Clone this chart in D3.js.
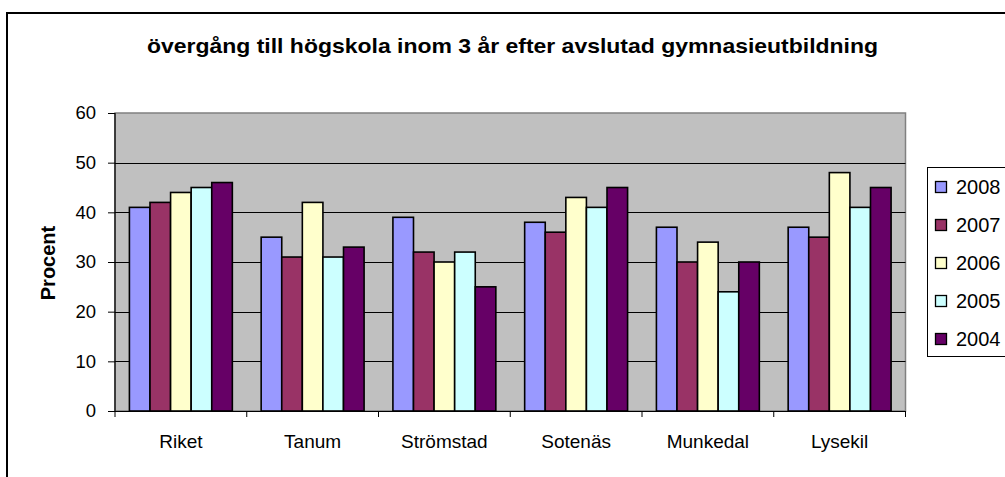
<!DOCTYPE html>
<html>
<head>
<meta charset="utf-8">
<script src="https://cdn.jsdelivr.net/npm/d3@7/dist/d3.min.js"></script>
<style>
html,body{margin:0;padding:0;background:#fff;}
svg{display:block;font-family:Arial,"Liberation Sans",sans-serif;}
</style>
</head>
<body>
<svg id="chart" width="1005" height="477"></svg>
<script>
const title = "övergång till högskola inom 3 år efter avslutad gymnasieutbildning";
const yAxisTitle = "Procent";
const categories = ["Riket", "Tanum", "Strömstad", "Sotenäs", "Munkedal", "Lysekil"];
const seriesNames = ["2008", "2007", "2006", "2005", "2004"];
const seriesColors = ["#9999FF", "#993366", "#FFFFCC", "#CCFFFF", "#660066"];
const values2008 = [41, 35, 39, 38, 37, 37];
const values2007 = [42, 31, 32, 36, 30, 35];
const values2006 = [44, 42, 30, 43, 34, 48];
const values2005 = [45, 31, 32, 41, 24, 41];
const values2004 = [46, 33, 25, 45, 30, 45];
const yTicks = [0, 10, 20, 30, 40, 50, 60];

const seriesValues = [values2008, values2007, values2006, values2005, values2004];

const svg = d3.select("#chart");

// outer chart border
svg.append("rect").attr("x", 7).attr("y", 13).attr("width", 1100).attr("height", 600)
  .attr("fill", "#fff").attr("stroke", "#000").attr("stroke-width", 2);

const plot = {left: 115, right: 905.5, top: 113, bottom: 411};

const x0 = d3.scaleBand().domain(categories).range([plot.left, plot.right]).paddingInner(0).paddingOuter(0);
const x1 = d3.scaleBand().domain(seriesNames).range([0, x0.bandwidth()]).paddingInner(0).paddingOuter(0.7);
const y = d3.scaleLinear().domain([0, 60]).range([plot.bottom, plot.top]);

// plot background
svg.append("rect").attr("x", plot.left).attr("y", plot.top)
  .attr("width", plot.right - plot.left).attr("height", plot.bottom - plot.top)
  .attr("fill", "#C0C0C0").attr("stroke", "#808080").attr("stroke-width", 1.5);

// gridlines
svg.append("g").selectAll("line").data(yTicks.filter(t => t > 0 && t < 60)).join("line")
  .attr("x1", plot.left).attr("x2", plot.right)
  .attr("y1", d => Math.round(y(d)) + 0.5).attr("y2", d => Math.round(y(d)) + 0.5)
  .attr("stroke", "#000").attr("stroke-width", 1);

// bars
const groups = svg.append("g").selectAll("g").data(categories).join("g")
  .attr("transform", c => `translate(${x0(c)},0)`);
groups.selectAll("rect").data((c, ci) => seriesNames.map((s, si) => ({s, si, v: seriesValues[si][ci]})))
  .join("rect")
  .attr("x", d => x1(d.s)).attr("width", x1.bandwidth())
  .attr("y", d => y(d.v)).attr("height", d => y(0) - y(d.v))
  .attr("fill", d => seriesColors[d.si]).attr("stroke", "#000").attr("stroke-width", 1.6);

// y axis
const yAxis = d3.axisLeft(y).tickValues(yTicks).tickSize(7).tickPadding(12);
const gy = svg.append("g").attr("transform", `translate(${plot.left},0)`).call(yAxis);
gy.select(".domain").attr("stroke", "#000").attr("stroke-width", 1.2).attr("d", `M0,${plot.top}V${plot.bottom}`);
gy.selectAll(".tick line").attr("stroke", "#000");
gy.selectAll(".tick text").attr("font-size", 18.5).attr("font-family", "Arial, 'Liberation Sans', sans-serif").attr("fill", "#000");

// x axis
const gx = svg.append("g").attr("transform", `translate(0,${plot.bottom})`);
gx.append("line").attr("x1", plot.left).attr("x2", plot.right).attr("y1", 0.5).attr("y2", 0.5)
  .attr("stroke", "#000").attr("stroke-width", 1.2);
const boundaries = categories.map(c => x0(c)).concat([plot.right]);
gx.selectAll("line.tk").data(boundaries).join("line").attr("class", "tk")
  .attr("x1", d => d).attr("x2", d => d).attr("y1", 0).attr("y2", 6)
  .attr("stroke", "#000").attr("stroke-width", 1);
gx.selectAll("text").data(categories).join("text")
  .attr("x", c => x0(c) + x0.bandwidth() / 2).attr("y", 37)
  .attr("text-anchor", "middle").attr("font-size", 19).attr("fill", "#000").text(c => c);

// title
svg.append("text").attr("x", 512.5).attr("y", 53).attr("text-anchor", "middle")
  .attr("font-size", 21).attr("font-weight", "bold").attr("fill", "#000")
  .attr("textLength", 731).attr("lengthAdjust", "spacingAndGlyphs").text(title);

// y axis title
svg.append("text").attr("transform", "translate(55,263) rotate(-90)").attr("text-anchor", "middle")
  .attr("font-size", 20).attr("font-weight", "bold").attr("fill", "#000").text(yAxisTitle);

// legend
const lg = svg.append("g");
lg.append("rect").attr("x", 927.5).attr("y", 167.5).attr("width", 120).attr("height", 189)
  .attr("fill", "#fff").attr("stroke", "#000").attr("stroke-width", 1);
const items = lg.selectAll("g").data(seriesNames).join("g")
  .attr("transform", (d, i) => `translate(0,${187 + i * 38})`);
items.append("rect").attr("x", 935.5).attr("y", -5.5).attr("width", 11).attr("height", 11)
  .attr("fill", (d, i) => seriesColors[i]).attr("stroke", "#000").attr("stroke-width", 1.3);
items.append("text").attr("x", 956).attr("y", 7).attr("font-size", 20).attr("fill", "#000").text(d => d);
</script>
</body>
</html>
